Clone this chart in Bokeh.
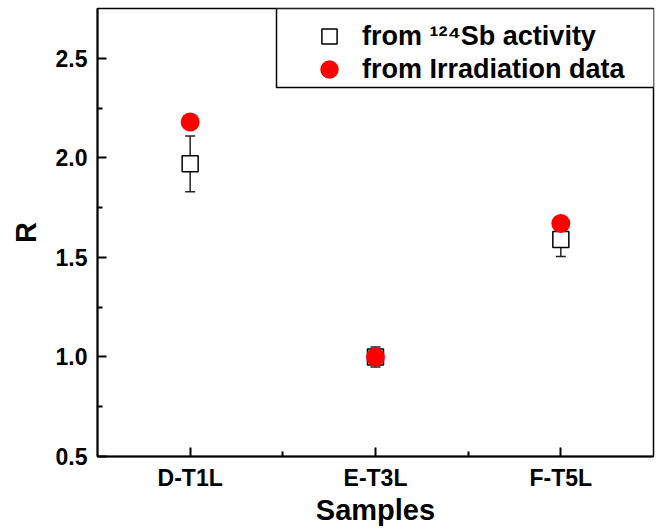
from bokeh.plotting import figure
from bokeh.models import (ColumnDataSource, Whisker, TeeHead, FixedTicker, Legend,
                          LegendItem, BoxAnnotation, Range1d)
from bokeh.embed import file_html
from bokeh.resources import INLINE

# ---- data ----
samples = ["D-T1L", "E-T3L", "F-T5L"]
sample_pos = [1, 2, 3]
r_activity = [1.97, 1.00, 1.59]
r_activity_err = [0.14, 0.05, 0.085]
r_irradiation = [2.18, 1.00, 1.67]
y_ticks = [0.5, 1.0, 1.5, 2.0, 2.5]
y_minor_ticks = [0.75, 1.25, 1.75, 2.25]
x_minor_ticks = [1.5, 2.5]
label_activity = "from \u00b9\u00b2\u2074Sb activity"
label_irradiation = "from Irradiation data"

FONT = "Liberation Sans"

src_act = ColumnDataSource(dict(
    x=sample_pos, y=r_activity,
    upper=[v + e for v, e in zip(r_activity, r_activity_err)],
    lower=[v - e for v, e in zip(r_activity, r_activity_err)],
))
src_irr = ColumnDataSource(dict(x=sample_pos, y=r_irradiation))

p = figure(width=656, height=528, x_range=Range1d(0.5, 3.5), y_range=Range1d(0.5, 2.75),
           output_backend="svg", toolbar_location=None,
           min_border_left=97, min_border_right=3, min_border_top=8, min_border_bottom=72)
p.grid.visible = False
p.background_fill_color = "white"
p.border_fill_color = "white"
p.outline_line_color = "black"
p.outline_line_width = 1.5

# axes
p.xaxis.ticker = FixedTicker(ticks=sample_pos, minor_ticks=x_minor_ticks)
p.xaxis.major_label_overrides = {pos: s for pos, s in zip(sample_pos, samples)}
p.yaxis.ticker = FixedTicker(ticks=y_ticks, minor_ticks=y_minor_ticks)
p.yaxis.major_label_overrides = {t: f"{t:.1f}" for t in y_ticks}
p.xaxis.axis_label = "Samples"
p.yaxis.axis_label = "R"
for ax in (p.xaxis[0], p.yaxis[0]):
    ax.axis_line_width = 2
    ax.axis_line_color = "black"
    ax.major_tick_line_width = 2
    ax.minor_tick_line_width = 2
    ax.major_tick_line_color = "black"
    ax.minor_tick_line_color = "black"
    ax.major_tick_in = 9
    ax.major_tick_out = 0
    ax.minor_tick_in = 5
    ax.minor_tick_out = 0
    ax.major_label_text_font = FONT
    ax.major_label_text_font_style = "bold"
    ax.major_label_text_font_size = "23px"
    ax.major_label_text_color = "black"
    ax.axis_label_text_font = FONT
    ax.axis_label_text_font_style = "bold"
    ax.axis_label_text_font_size = "29px"
    ax.axis_label_text_color = "black"
p.xaxis.major_label_standoff = 8
p.xaxis.axis_label_standoff = 0
p.yaxis.major_label_standoff = 10
p.yaxis.axis_label_standoff = 11

# error bars
whisker = Whisker(source=src_act, base="x", upper="upper", lower="lower",
                  line_color="#222222", line_width=1.5, level="underlay",
                  upper_head=TeeHead(size=10, line_color="#222222", line_width=1.5),
                  lower_head=TeeHead(size=10, line_color="#222222", line_width=1.5))
p.add_layout(whisker)

sq = p.scatter("x", "y", source=src_act, marker="square", size=16,
               fill_color="white", line_color="black", line_width=1.5)
ci = p.scatter("x", "y", source=src_irr, marker="circle", size=19,
               fill_color="red", line_color="red", line_width=0)

# legend frame
box = BoxAnnotation(left=179, right=557, top=448, bottom=369,
                    left_units="screen", right_units="screen",
                    top_units="screen", bottom_units="screen",
                    fill_color="white", fill_alpha=1.0,
                    line_color="black", line_width=1.5, line_alpha=1.0)
p.add_layout(box)

def make_legend(label, rend, gsize, loc, standoff):
    lg = Legend(items=[LegendItem(label=label, renderers=[rend])], location=loc,
                glyph_width=gsize, glyph_height=gsize, padding=0, margin=0,
                spacing=0, label_standoff=standoff,
                border_line_alpha=0, background_fill_alpha=0,
                label_text_font=FONT, label_text_font_style="bold",
                label_text_font_size="27px", label_text_color="black")
    return lg

p.add_layout(make_legend(label_activity, sq, 38, (213, 401), 14))
p.add_layout(make_legend(label_irradiation, ci, 46, (209, 364), 10))

open("out.html", "w").write(file_html(p, INLINE))
